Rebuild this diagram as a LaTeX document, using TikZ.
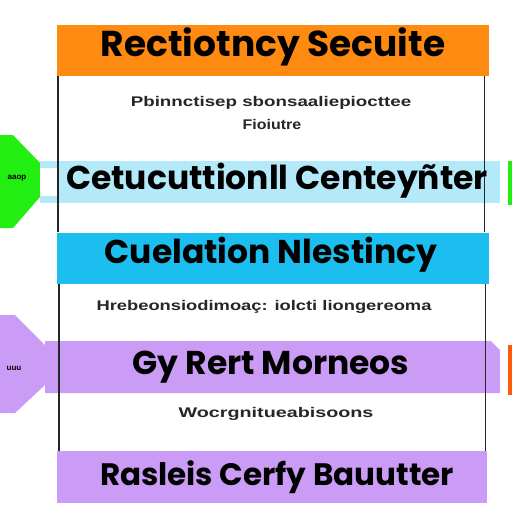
\documentclass[tikz,border=0pt]{standalone}
\usepackage{fontspec}
\setmainfont{Poppins}
\newfontfamily\notefont{Liberation Sans}
\usetikzlibrary{calc}
\definecolor{headorange}{HTML}{FF8A12}
\definecolor{headcyan}{HTML}{1CBEF0}
\definecolor{bandcyan}{HTML}{B3E9F9}
\definecolor{tabgreen}{HTML}{22EE12}
\definecolor{lavender}{HTML}{CB9CF6}
\definecolor{tabred}{HTML}{FF5A0A}
\tikzset{
  headbox/.style={minimum width=432pt, minimum height=51pt, inner sep=0pt},
  headline/.style={font=\bfseries\fontsize{#1}{#1}\selectfont, text=black, inner sep=0pt},
  noteline/.style={font=\notefont\bfseries\fontsize{14}{14}\selectfont, text=black!85, inner sep=0pt, xscale=#1},
  tabline/.style={font=\notefont\bfseries\fontsize{8}{8}\selectfont, inner sep=0pt},
  rail/.style={black!85, line width=1.4pt}
}

\begin{document}
\begin{tikzpicture}[x=1pt,y=-1pt]
        \useasboundingbox (0,0) rectangle (512,512);
        \fill[white] (0,0) rectangle (512,512);

        % side tabs and bands
        \fill[tabgreen] (0,135) -- (13,135) -- (40,163) -- (40,197) -- (13,228) -- (0,228) -- cycle;
        \fill[bandcyan] (40,161) rectangle (500,203);
        \fill[white] (40,168) rectangle (57,196);
        \fill[tabgreen] (508,161) rectangle (512,205);
        \fill[lavender] (0,315) -- (15,315) -- (45,345) -- (45,385) -- (15,413) -- (0,413) -- cycle;
        \fill[lavender] (45,341) -- (491,341) -- (500,350) -- (500,393) -- (45,393) -- cycle;
        \fill[tabred] (508,345) rectangle (512,395);

        % boxes
        \node[headbox, fill=headorange] (title) at (273,50.5) {};
        \node[headbox, fill=headcyan] (cyanbox) at (273,258) {};
        \node[headbox, fill=lavender, minimum width=430pt, minimum height=52pt] (footbox) at (272,477) {};

        % rails
        \draw[rail] ([xshift=1pt]title.south west) -- ([xshift=1pt]title.south west |- cyanbox.north);
        \draw[rail] ([xshift=-5pt]title.south east) -- ([xshift=-5pt]title.south east |- cyanbox.north);
        \draw[rail] ([xshift=2pt]cyanbox.south west) -- ([xshift=2pt]cyanbox.south west |- footbox.north);
        \draw[rail] ([xshift=-4pt]cyanbox.south east) -- ([xshift=-4pt]cyanbox.south east |- footbox.north);

        % texts
        \node[headline=36] (titletext) at (273,47) {Rectiotncy Secuite};
        \node[noteline=1.34] (noteA) at (271,103) {Pbinnctisep sbonsaaliepiocttee};
        \node[noteline=1.14] (noteB) at (272,124) {Fioiutre};
        \node[headline=33] (bandtext) at (277,181) {Cetucuttionll Centeyñter};
        \node[headline=33] (cyantext) at (271,255) {Cuelation Nlestincy};
        \node[noteline=1.31] (noteC) at (264,307) {Hrebeonsiodimoaç: iolcti liongereoma};
        \node[headline=33] (purpletext) at (271,367) {Gy Rert Morneos};
        \node[noteline=1.41] (noteD) at (276,414) {Wocrgnitueabisoons};
        \node[headline=31] (foottext) at (277,477) {Rasleis Cerfy Bauutter};
        \node[tabline] (greentab) at (17,178) {aaop};
        \node[tabline] (purpletab) at (14,368) {uuu};
    \end{tikzpicture}
\end{document}
